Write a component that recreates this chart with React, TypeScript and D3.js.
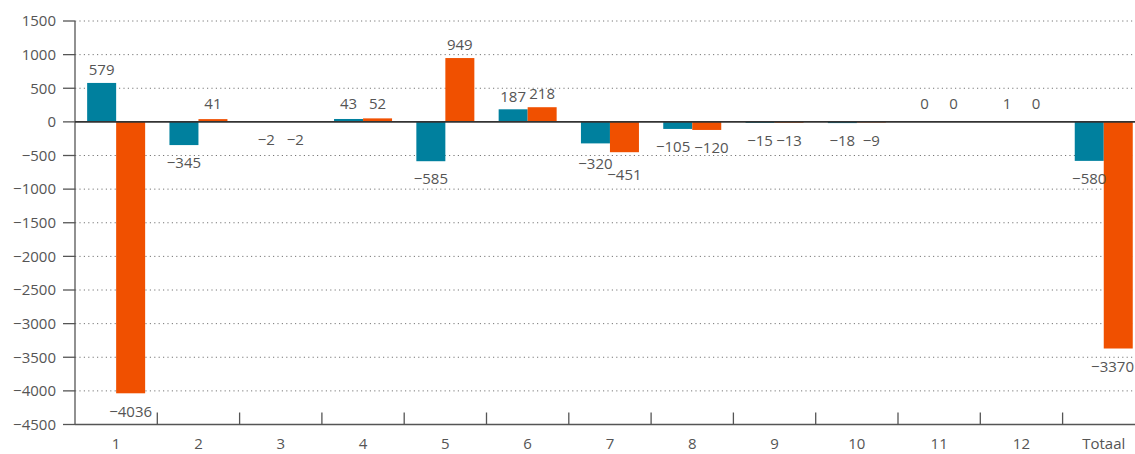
import React from "react";
import * as d3 from "d3";

const categories = ["1", "2", "3", "4", "5", "6", "7", "8", "9", "10", "11", "12", "Totaal"];
const seriesA = [579, -345, -2, 43, -585, 187, -320, -105, -15, -18, 0, 1, -580];
const seriesB = [-4036, 41, -2, 52, 949, 218, -451, -120, -13, -9, 0, 0, -3370];
const yTicks = [1500, 1000, 500, 0, -500, -1000, -1500, -2000, -2500, -3000, -3500, -4000, -4500];

const W = 1135;
const H = 454;
const left = 75;
const bandW = 82.3;
const right = left + bandW * categories.length;
const top = 21;
const bottom = 424.5;

const tealColor = "#00809e";
const orangeColor = "#f05000";
const textColor = "#555";
const font = "'Open Sans', 'Noto Sans', sans-serif";
const fs = 15;

const fmt = (v: number) => (v < 0 ? "\u2212" + Math.abs(v) : String(v));
const textW = (s: string) => s.length * fs * 0.572;

export default function App() {
  const x = d3.scaleBand<string>().domain(categories).range([left, right]).padding(0);
  const y = d3.scaleLinear().domain([-4500, 1500]).range([bottom, top]);
  const barW = 29;
  const y0 = y(0);

  const series = [
    { values: seriesA, color: tealColor, off: -barW },
    { values: seriesB, color: orangeColor, off: 0 },
  ];

  // label layout
  const labels: { key: string; x: number; y: number; text: string }[] = [];
  categories.forEach((c, i) => {
    const cxBand = (x(c) as number) + bandW / 2;
    const pos = series.map((s, si) => {
      const v = s.values[i];
      const yv = y(v);
      const ly = v >= 0 ? Math.min(yv - 13, y0 - 18) : Math.max(yv + 18, y0 + 18);
      return { key: c + "-" + si, x: cxBand + s.off + barW / 2, y: ly, text: fmt(v) };
    });
    const [a, b] = pos;
    const overlapX = Math.abs(a.x - b.x) < (textW(a.text) + textW(b.text)) / 2 + 3;
    if (overlapX && Math.abs(a.y - b.y) < 13) {
      if (Math.abs(a.y - b.y) < 4) {
        const need = (textW(a.text) + textW(b.text)) / 2 + 4;
        const shift = (need - (b.x - a.x)) / 2;
        a.x -= shift;
        b.x += shift;
      } else if (b.y > a.y) {
        b.y = a.y + 13;
        a.y += 2;
      } else {
        a.y = b.y + 13;
        b.y += 2;
      }
    }
    [a, b].forEach((l) => {
      const maxX = W - textW(l.text) / 2 - 1;
      if (l.x > maxX) l.x = maxX;
    });
    labels.push(a, b);
  });

  return (
    <svg width={W} height={H} style={{ position: "absolute", left: 0, top: 0, display: "block" }}
      fontFamily={font}>
      {/* gridlines */}
      {yTicks.filter((t) => t !== 0 && t !== -4500).map((t) => (
        <line key={"g" + t} x1={left} x2={W} y1={y(t)} y2={y(t)} stroke="#777" strokeWidth={1}
          strokeDasharray="1.2,3.2" />
      ))}
      {/* y axis */}
      <line x1={left} x2={left} y1={top} y2={bottom} stroke="#555" strokeWidth={1.3} />
      {yTicks.map((t) => (
        <g key={"t" + t}>
          <line x1={left - 12} x2={left} y1={y(t)} y2={y(t)} stroke="#555" strokeWidth={1.3} />
          <text x={56} y={y(t)} dy="0.35em" textAnchor="end" fontSize={fs} fill={textColor}>
            {fmt(t)}
          </text>
        </g>
      ))}
      {/* bars */}
      {series.map((s, si) =>
        s.values.map((v, i) => {
          const cx = (x(categories[i]) as number) + bandW / 2;
          const yv = y(v);
          return (
            <rect key={"b" + si + "-" + i} x={cx + s.off} width={barW}
              y={Math.min(yv, y0)} height={Math.max(Math.abs(yv - y0), 0)} fill={s.color} />
          );
        })
      )}
      {/* zero line */}
      <line x1={left} x2={W} y1={y0} y2={y0} stroke="#333" strokeWidth={1.6} />
      {/* bottom axis */}
      <line x1={left} x2={W} y1={bottom} y2={bottom} stroke="#555" strokeWidth={1.3} />
      {categories.map((c, i) => (
        <g key={"x" + c}>
          {i > 0 && (
            <line x1={x(c) as number} x2={x(c) as number} y1={bottom - 12} y2={bottom}
              stroke="#555" strokeWidth={1.3} />
          )}
          <text x={(x(c) as number) + bandW / 2} y={449} textAnchor="middle"
            fontSize={fs} fill={textColor}>
            {c}
          </text>
        </g>
      ))}
      {/* labels */}
      {labels.map((l) => (
        <text key={"l" + l.key} x={l.x} y={l.y} dy="0.35em" textAnchor="middle"
          fontSize={fs} fill={textColor}>
          {l.text}
        </text>
      ))}
    </svg>
  );
}
